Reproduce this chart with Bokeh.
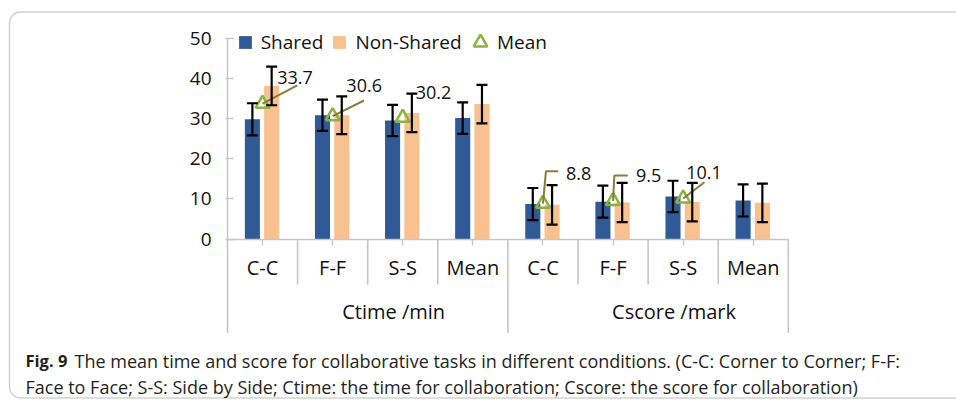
from bokeh.plotting import figure
from bokeh.models import (ColumnDataSource, Whisker, TeeHead, LinearAxis, FixedTicker,
                          Legend, LegendItem, Label, BoxAnnotation, Range1d)
from bokeh.core.properties import value
from bokeh.embed import file_html
from bokeh.resources import INLINE

# ---------------- data ----------------
groups = ["Ctime /min", "Cscore /mark"]
conditions = ["C-C", "F-F", "S-S", "Mean"]
shared = [29.8, 30.8, 29.5, 30.1, 8.7, 9.3, 10.6, 9.6]
shared_err = [4.0, 3.9, 3.9, 3.9, 4.0, 4.0, 3.9, 4.0]
non_shared = [38.1, 30.8, 31.4, 33.6, 8.5, 9.1, 9.2, 9.0]
non_shared_err = [4.8, 4.7, 4.8, 4.8, 4.9, 4.9, 4.8, 4.8]
mean_time = [33.7, 30.6, 30.2]      # Mean markers for C-C, F-F, S-S (Ctime)
mean_score = [8.8, 9.5, 10.1]       # Mean markers for C-C, F-F, S-S (Cscore)
y_ticks = [0, 10, 20, 30, 40, 50]
series_names = ["Shared", "Non-Shared", "Mean"]
caption_bold = "Fig. 9"
caption_line1 = "The mean time and score for collaborative tasks in different conditions. (C-C: Corner to Corner; F-F:"
caption_line2 = "Face to Face; S-S: Side by Side; Ctime: the time for collaboration; Cscore: the score for collaboration)"

# ---------------- layout / style ----------------
FIG_W, FIG_H = 956, 400
CAT_PX = 70.1          # pixels per category
X_ORIGIN_PX = 227      # px of the left edge of the first category
UNIT_PX = 4.016        # pixels per value unit
Y_ORIGIN_PX = 238.5    # px (from top) of value 0

BLUE = "#2f5a96"
ORANGE = "#f9c090"
GREEN = "#8ab43e"
LEADER = "#857d3a"
GRAY = "#c6c6c6"
TXT = "#111111"
FONT = "Open Sans"
CAP_FONT = "Open Sans"
CAP_SIZE = "18px"
CAP_BOLD_SIZE = "16.5px"

BAR_W = 0.215
OFF_S, OFF_N = -0.145, 0.13


def data_x(px):
    return (px - X_ORIGIN_PX) / CAT_PX


def data_y(py):
    return (Y_ORIGIN_PX - py) / UNIT_PX


n_cat = len(groups) * len(conditions)
centers = [i + 0.5 for i in range(n_cat)]
cat_labels = [c for g in groups for c in conditions]

p = figure(width=FIG_W, height=FIG_H,
           x_range=Range1d(data_x(0), data_x(FIG_W)),
           y_range=Range1d(data_y(FIG_H), data_y(0)),
           output_backend="svg", toolbar_location=None,
           x_axis_location=None, y_axis_location=None,
           min_border=0, min_border_left=0, min_border_right=0,
           min_border_top=0, min_border_bottom=0,
           outline_line_color=None, background_fill_color="white",
           border_fill_color="white")
p.grid.visible = False

# rounded frame around the figure
box = BoxAnnotation(left=data_x(9), right=data_x(FIG_W + 30),
                    top=data_y(11.5), bottom=data_y(397.5),
                    fill_alpha=0, line_color="#6a6a6a", line_width=1.5,
                    border_radius=11, level="underlay")
p.add_layout(box)

# bars
src = ColumnDataSource(dict(
    xs=[c + OFF_S for c in centers], xn=[c + OFF_N for c in centers],
    shared=shared, non_shared=non_shared,
    s_up=[v + e for v, e in zip(shared, shared_err)],
    s_lo=[v - e for v, e in zip(shared, shared_err)],
    n_up=[v + e for v, e in zip(non_shared, non_shared_err)],
    n_lo=[v - e for v, e in zip(non_shared, non_shared_err)],
))
bar_s = p.vbar(x="xs", top="shared", bottom=0, width=BAR_W, source=src,
               fill_color=BLUE, line_color=None)
bar_n = p.vbar(x="xn", top="non_shared", bottom=0, width=BAR_W, source=src,
               fill_color=ORANGE, line_color=None)

for base, up, lo in (("xs", "s_up", "s_lo"), ("xn", "n_up", "n_lo")):
    w = Whisker(base=base, upper=up, lower=lo, source=src, dimension="height",
                line_color="black", line_width=2.2, level="glyph",
                upper_head=TeeHead(size=11, line_color="black", line_width=2.2),
                lower_head=TeeHead(size=11, line_color="black", line_width=2.2))
    p.add_layout(w)

# category dividers below the axis
SHORT_DEPTH = 45.5 / UNIT_PX
LONG_DEPTH = 94 / UNIT_PX
short_b = [i for i in range(1, n_cat) if i % len(conditions) != 0]
long_b = [i for i in range(0, n_cat + 1) if i % len(conditions) == 0]
p.segment(x0=short_b, x1=short_b, y0=[0] * len(short_b), y1=[-SHORT_DEPTH] * len(short_b),
          line_color=GRAY, line_width=1.6)
p.segment(x0=long_b, x1=long_b, y0=[0] * len(long_b), y1=[-LONG_DEPTH] * len(long_b),
          line_color=GRAY, line_width=1.6)

# mean markers
mean_x, mean_y = [], []
for gi, vals in enumerate((mean_time, mean_score)):
    for ci, v in enumerate(vals):
        mean_x.append(gi * len(conditions) + ci + 0.5)
        mean_y.append(v)
mean_r = p.scatter(x=mean_x, y=mean_y, marker="triangle", size=14,
                   fill_alpha=0, line_color=GREEN, line_width=2.5)

# mean value labels and leader lines (offsets in px from the marker; +y is down)
label_off = [(14.7, -26.5), (13.7, -30.6), (13.0, -25.5),
             (23.0, -29.9), (23.0, -25.4), (3.0, -26.2)]
leader_off = [[(0, 0), (34.7, -18.2)], [(0, 0), (31.3, -15.6)], None,
              [(0, 0), (3, -32.5), (15.3, -32.5)],
              [(0, 0), (1.3, -25.4), (14.7, -25.4)],
              [(0, 0), (21.3, -16.2)]]
lx, ly = [], []
for x, y, path in zip(mean_x, mean_y, leader_off):
    if path is None:
        continue
    lx.append([x + dx / CAT_PX for dx, dy in path])
    ly.append([y - dy / UNIT_PX for dx, dy in path])
p.multi_line(xs=lx, ys=ly, line_color=LEADER, line_width=2)
p.text(x=[x + o[0] / CAT_PX for x, o in zip(mean_x, label_off)],
       y=[y - o[1] / UNIT_PX for y, o in zip(mean_y, label_off)],
       text=[f"{v:.1f}" for v in mean_y],
       text_font=value(FONT), text_font_size="18px", text_color=TXT,
       text_align="left", text_baseline="middle")

# y axis
yax = LinearAxis(fixed_location=0, bounds=(y_ticks[0], y_ticks[-1]),
                 ticker=FixedTicker(ticks=y_ticks),
                 axis_line_color=GRAY, axis_line_width=1.4,
                 major_tick_line_color=GRAY, major_tick_line_width=1.4,
                 major_tick_in=6, major_tick_out=2, minor_tick_line_color=None,
                 major_label_standoff=14, major_label_text_font=FONT,
                 major_label_text_font_size="19px", major_label_text_color=TXT)
p.add_layout(yax, "left")

# category axis
xax = LinearAxis(fixed_location=0, bounds=(0, n_cat),
                 ticker=FixedTicker(ticks=centers),
                 major_label_overrides={c: l for c, l in zip(centers, cat_labels)},
                 axis_line_color=GRAY, axis_line_width=1.6,
                 major_tick_line_color=GRAY, major_tick_line_width=1.4,
                 major_tick_in=0, major_tick_out=6, minor_tick_line_color=None,
                 major_label_standoff=9, major_label_text_font=FONT,
                 major_label_text_font_size="20px", major_label_text_color=TXT)
p.add_layout(xax, "below")

# group axis
GROUP_SHIFT = 0.37
gcent = [gi * len(conditions) + len(conditions) / 2 + GROUP_SHIFT for gi in range(len(groups))]
gax = LinearAxis(fixed_location=0, ticker=FixedTicker(ticks=gcent),
                 major_label_overrides={c: g for c, g in zip(gcent, groups)},
                 axis_line_color=None, major_tick_line_color=None,
                 minor_tick_line_color=None, major_tick_in=0, major_tick_out=0,
                 major_label_standoff=59, major_label_text_font=FONT,
                 major_label_text_font_size="20px", major_label_text_color=TXT)
p.add_layout(gax, "below")

# legends
leg1 = Legend(items=[LegendItem(label=series_names[0], renderers=[bar_s]),
                     LegendItem(label=series_names[1], renderers=[bar_n])],
              orientation="horizontal", location=(236.7, 345),
              glyph_width=16, glyph_height=16, label_standoff=8, spacing=8,
              padding=0, margin=0, border_line_color=None, background_fill_alpha=0,
              label_text_font=FONT, label_text_font_size="19px",
              label_text_color=TXT)
leg2 = Legend(items=[LegendItem(label=series_names[2], renderers=[mean_r])],
              orientation="horizontal", location=(463, 341),
              glyph_width=34, glyph_height=34, label_standoff=0,
              padding=0, margin=0, border_line_color=None, background_fill_alpha=0,
              label_text_font=FONT, label_text_font_size="19px",
              label_text_color=TXT)
p.add_layout(leg1, "center")
p.add_layout(leg2, "center")

# caption (screen y measured from the bottom)
p.add_layout(Label(x=25, y=FIG_H - 360, x_units="screen", y_units="screen",
                   text=caption_bold, text_font=CAP_FONT, text_font_style="bold",
                   text_font_size=CAP_BOLD_SIZE, text_color="#231f20",
                   text_baseline="alphabetic"))
p.add_layout(Label(x=74, y=FIG_H - 360, x_units="screen", y_units="screen",
                   text=caption_line1, text_font=CAP_FONT,
                   text_font_size=CAP_SIZE, text_color="#231f20",
                   text_baseline="alphabetic"))
p.add_layout(Label(x=25, y=FIG_H - 386, x_units="screen", y_units="screen",
                   text=caption_line2, text_font=CAP_FONT,
                   text_font_size=CAP_SIZE, text_color="#231f20",
                   text_baseline="alphabetic"))

open("out.html", "w").write(file_html(p, INLINE))
